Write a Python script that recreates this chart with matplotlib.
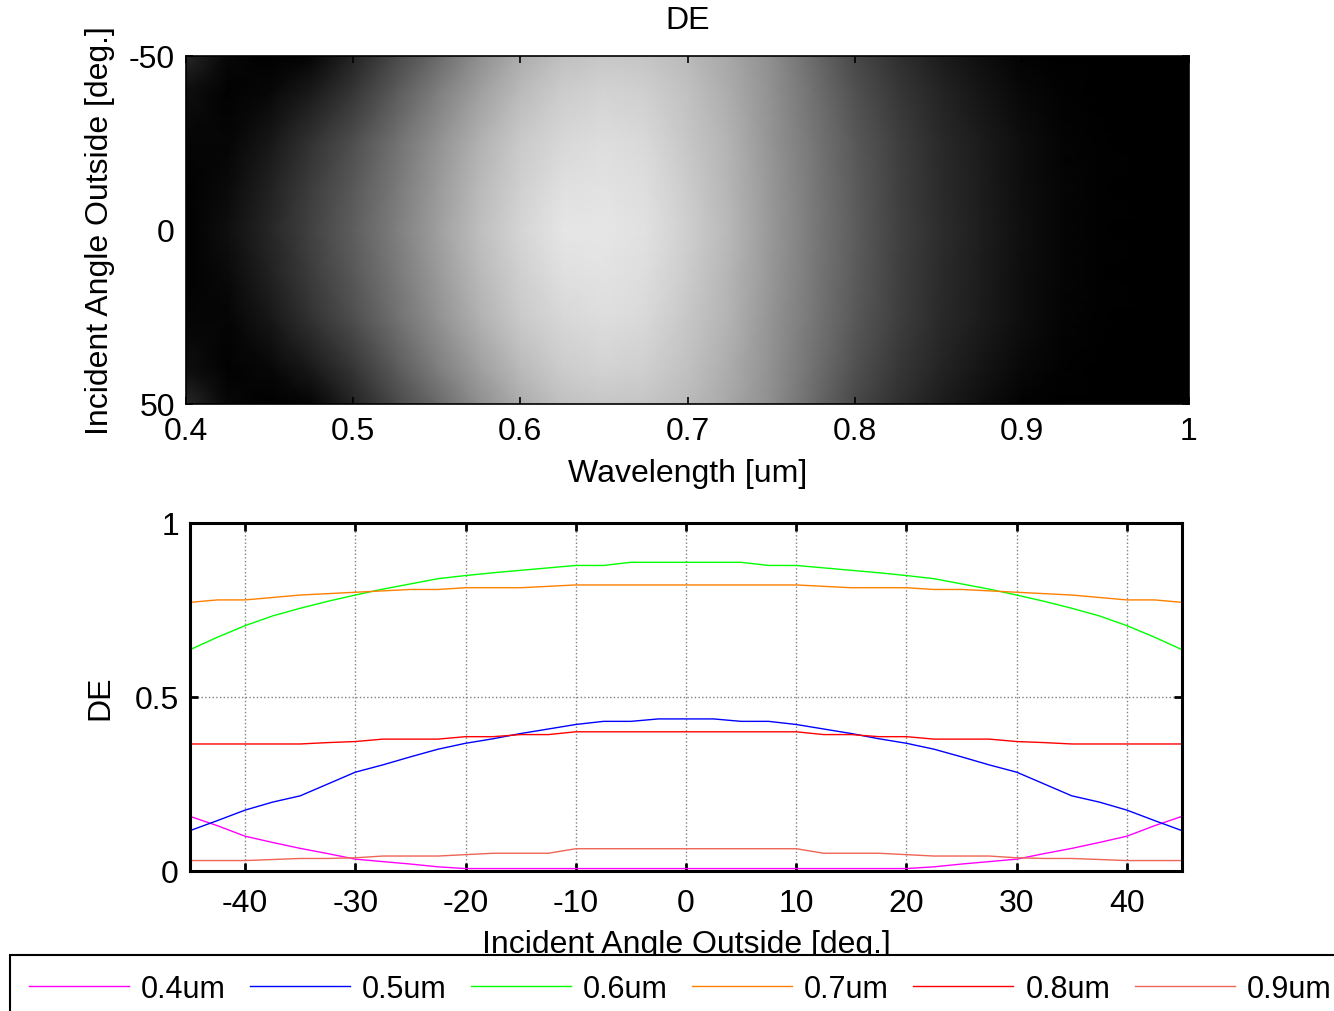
import numpy as np
import matplotlib
matplotlib.use("Agg")
import matplotlib.pyplot as plt
from matplotlib.lines import Line2D

plt.rcParams['font.family'] = ['Liberation Sans', 'DejaVu Sans']
plt.rcParams['axes.unicode_minus'] = False

# ---- Diffraction efficiency map (wavelength x incident angle) ----
map_wavelengths = [0.400, 0.425, 0.450, 0.475, 0.500, 0.525, 0.550, 0.575, 0.600,
                   0.625, 0.650, 0.675, 0.700, 0.725, 0.750, 0.775, 0.800, 0.825,
                   0.850, 0.875, 0.900, 0.925, 0.950, 0.975, 1.000]
map_angles = [-50, -40, -25, -12, 0, 12, 25, 40, 50]

de_m50 = [0.16, 0.03, 0.00, 0.02, 0.14, 0.28, 0.41, 0.555, 0.675, 0.75, 0.78, 0.77, 0.73,
          0.655, 0.555, 0.42, 0.285, 0.195, 0.115, 0.06, 0.015, 0.0, 0.0, 0.0, 0.0]
de_m40 = [0.06, 0.01, 0.03, 0.10, 0.21, 0.35, 0.49, 0.62, 0.73, 0.80, 0.825, 0.81, 0.755,
          0.675, 0.57, 0.445, 0.32, 0.22, 0.145, 0.085, 0.035, 0.008, 0.0, 0.0, 0.0]
de_m25 = [0.02, 0.02, 0.09, 0.20, 0.31, 0.44, 0.57, 0.695, 0.79, 0.845, 0.87, 0.85, 0.78,
          0.70, 0.58, 0.465, 0.35, 0.25, 0.17, 0.11, 0.055, 0.018, 0.004, 0.0, 0.0]
de_m12 = [0.005, 0.04, 0.13, 0.24, 0.35, 0.47, 0.60, 0.725, 0.815, 0.875, 0.89, 0.87, 0.80,
          0.71, 0.59, 0.475, 0.36, 0.255, 0.175, 0.115, 0.058, 0.02, 0.005, 0.0, 0.0]
de_0 = [0.00, 0.06, 0.15, 0.26, 0.37, 0.49, 0.62, 0.745, 0.835, 0.895, 0.90, 0.88, 0.81,
        0.72, 0.595, 0.48, 0.365, 0.26, 0.18, 0.12, 0.06, 0.02, 0.005, 0.0, 0.0]
de_p12 = [0.005, 0.04, 0.13, 0.24, 0.35, 0.47, 0.60, 0.725, 0.815, 0.875, 0.89, 0.87, 0.80,
          0.71, 0.59, 0.475, 0.36, 0.255, 0.175, 0.115, 0.058, 0.02, 0.005, 0.0, 0.0]
de_p25 = [0.02, 0.02, 0.09, 0.20, 0.31, 0.44, 0.57, 0.695, 0.79, 0.845, 0.87, 0.85, 0.78,
          0.70, 0.58, 0.465, 0.35, 0.25, 0.17, 0.11, 0.055, 0.018, 0.004, 0.0, 0.0]
de_p40 = [0.06, 0.01, 0.03, 0.10, 0.21, 0.35, 0.49, 0.62, 0.73, 0.80, 0.825, 0.81, 0.755,
          0.675, 0.57, 0.445, 0.32, 0.22, 0.145, 0.085, 0.035, 0.008, 0.0, 0.0, 0.0]
de_p50 = [0.16, 0.03, 0.00, 0.02, 0.14, 0.28, 0.41, 0.555, 0.675, 0.75, 0.78, 0.77, 0.73,
          0.655, 0.555, 0.42, 0.285, 0.195, 0.115, 0.06, 0.015, 0.0, 0.0, 0.0, 0.0]

# ---- DE versus incident angle for selected wavelengths ----
angles = np.arange(-45, 45.1, 2.5)

de_04 = [0.157, 0.130, 0.100, 0.082, 0.065, 0.050, 0.034, 0.027, 0.020, 0.012, 0.007,
         0.007, 0.007, 0.007, 0.007, 0.007, 0.007, 0.007, 0.007, 0.007, 0.007, 0.007,
         0.007, 0.007, 0.007, 0.007, 0.007, 0.012, 0.020, 0.027, 0.034, 0.050, 0.065,
         0.082, 0.100, 0.130, 0.157]
de_05 = [0.116, 0.145, 0.175, 0.198, 0.216, 0.250, 0.284, 0.305, 0.328, 0.350, 0.367,
         0.380, 0.395, 0.408, 0.421, 0.430, 0.430, 0.437, 0.437, 0.437, 0.430, 0.430,
         0.421, 0.408, 0.395, 0.380, 0.367, 0.350, 0.328, 0.305, 0.284, 0.250, 0.216,
         0.198, 0.175, 0.145, 0.116]
de_06 = [0.636, 0.672, 0.705, 0.733, 0.755, 0.775, 0.793, 0.810, 0.825, 0.840, 0.849,
         0.857, 0.864, 0.871, 0.878, 0.878, 0.887, 0.887, 0.887, 0.887, 0.887, 0.878,
         0.878, 0.871, 0.864, 0.857, 0.849, 0.840, 0.825, 0.810, 0.793, 0.775, 0.755,
         0.733, 0.705, 0.672, 0.636]
de_07 = [0.772, 0.779, 0.779, 0.786, 0.793, 0.797, 0.801, 0.805, 0.809, 0.809, 0.814,
         0.814, 0.814, 0.818, 0.822, 0.822, 0.822, 0.822, 0.822, 0.822, 0.822, 0.822,
         0.822, 0.818, 0.814, 0.814, 0.814, 0.809, 0.809, 0.805, 0.801, 0.797, 0.793,
         0.786, 0.779, 0.779, 0.772]
de_08 = [0.365, 0.365, 0.365, 0.365, 0.365, 0.369, 0.372, 0.379, 0.379, 0.379, 0.386,
         0.386, 0.392, 0.392, 0.400, 0.400, 0.400, 0.400, 0.400, 0.400, 0.400, 0.400,
         0.400, 0.392, 0.392, 0.386, 0.386, 0.379, 0.379, 0.379, 0.372, 0.369, 0.365,
         0.365, 0.365, 0.365, 0.365]
de_09 = [0.030, 0.030, 0.030, 0.033, 0.036, 0.036, 0.038, 0.043, 0.043, 0.043, 0.047,
         0.051, 0.051, 0.051, 0.064, 0.064, 0.064, 0.064, 0.064, 0.064, 0.064, 0.064,
         0.064, 0.051, 0.051, 0.051, 0.047, 0.043, 0.043, 0.043, 0.038, 0.036, 0.036,
         0.033, 0.030, 0.030, 0.030]

series_labels = ['0.4um', '0.5um', '0.6um', '0.7um', '0.8um', '0.9um']
series_colors = ['#ff00ff', '#0000ff', '#00ff00', '#ff8000', '#ff0000', '#ee6655']

W, H = 1334, 1012
fig = plt.figure(figsize=(W / 100, H / 100), dpi=100)
fs = 23

# ---- top: efficiency map ----
ax1 = fig.add_axes([186 / W, 1 - 405 / H, (1189 - 186) / W, (405 - 57) / H])
Z = np.array([de_m50, de_m40, de_m25, de_m12, de_0, de_p12, de_p25, de_p40, de_p50])
ax1.pcolormesh(map_wavelengths, map_angles, Z, shading='gouraud', cmap='gray',
               vmin=0, vmax=1)
ax1.set_xlim(0.4, 1.0)
ax1.set_ylim(50, -50)
ax1.set_xticks([0.4, 0.5, 0.6, 0.7, 0.8, 0.9, 1.0])
ax1.set_xticklabels(['0.4', '0.5', '0.6', '0.7', '0.8', '0.9', '1'])
ax1.set_yticks([-50, 0, 50])
ax1.set_yticklabels(['-50', '0', '50'])
ax1.tick_params(direction='in', length=5, width=1.2, top=True, right=True,
                labelsize=fs, color='black')
ax1.tick_params(axis='x', pad=9)
ax1.tick_params(axis='y', pad=8)
for s in ax1.spines.values():
    s.set_linewidth(1.2)
ax1.set_title('DE', fontsize=fs, pad=20)
ax1.set_xlabel('Wavelength [um]', fontsize=fs, labelpad=8)
ax1.set_ylabel('Incident Angle Outside [deg.]', fontsize=fs, labelpad=10)

# ---- bottom: DE vs angle ----
ax2 = fig.add_axes([190 / W, 1 - 872 / H, (1182 - 190) / W, (872 - 524) / H])
all_series = [de_04, de_05, de_06, de_07, de_08, de_09]
for vals, lab, col in zip(all_series, series_labels, series_colors):
    ax2.plot(angles, vals, color=col, lw=1.0, label=lab)
ax2.set_xlim(-45, 45)
ax2.set_ylim(0, 1)
ax2.set_xticks([-40, -30, -20, -10, 0, 10, 20, 30, 40])
ax2.set_yticks([0, 0.5, 1])
ax2.set_yticklabels(['0', '0.5', '1'])
ax2.grid(True, color='#808080', linestyle=':', linewidth=1.0)
ax2.tick_params(direction='in', length=6, width=2, top=True, right=True,
                labelsize=fs, color='black')
ax2.tick_params(axis='x', pad=12)
ax2.tick_params(axis='y', pad=8)
for s in ax2.spines.values():
    s.set_linewidth(2.2)
ax2.set_xlabel('Incident Angle Outside [deg.]', fontsize=fs, labelpad=8)
ax2.set_ylabel('DE', fontsize=fs, labelpad=14)

# legend along the bottom edge, sharing the line styles
lfs = 22
handles = [Line2D([], [], color=c, lw=1.0) for c in series_colors]
leg = fig.legend(handles, series_labels, loc='upper left',
                 bbox_to_anchor=(10 / W, 1 - 956 / H), ncol=6, frameon=True,
                 fancybox=False, edgecolor='black', framealpha=1,
                 handlelength=3.27, handletextpad=0.39, columnspacing=0.8,
                 borderaxespad=0, borderpad=0.62, fontsize=lfs)
leg.get_frame().set_linewidth(1.5)
leg.set_zorder(5)

fig.savefig('out.png', dpi=100)
